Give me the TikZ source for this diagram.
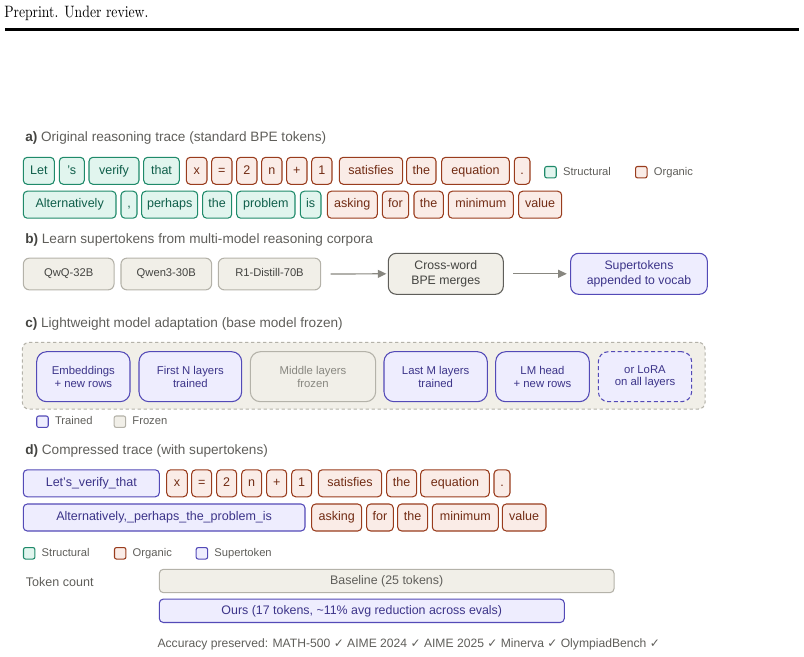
\documentclass[tikz,border=0pt]{standalone}
\usepackage{fontspec}
\setsansfont{Liberation Sans}
\renewcommand{\familydefault}{\sfdefault}
\newfontfamily\checkfont{DejaVu Sans}
\usepackage{tikz}
\usetikzlibrary{arrows.meta, positioning}
\definecolor{stfill}{HTML}{E1F5EE}
\definecolor{stdraw}{HTML}{1F8A6A}
\definecolor{sttext}{HTML}{0F5E4A}
\definecolor{orfill}{HTML}{FAECE7}
\definecolor{ordraw}{HTML}{993C1D}
\definecolor{ortext}{HTML}{712B13}
\definecolor{spfill}{HTML}{EEEDFE}
\definecolor{spdraw}{HTML}{534AB7}
\definecolor{sptext}{HTML}{3C3489}
\definecolor{frfill}{HTML}{F1EFE8}
\definecolor{frdraw}{HTML}{B4B2A9}
\definecolor{midgray}{HTML}{888780}
\definecolor{darkgray}{HTML}{5F5E5A}
\definecolor{inkgray}{HTML}{444441}

\begin{document}
\begin{tikzpicture}[x=0.75pt, y=-0.75pt,
  tok/.style={rounded corners=3pt, line width=0.8pt, minimum height=20.25pt,
              inner sep=0pt, text height=6.9pt, text depth=2.1pt,
              font=\fontsize{9.4}{11}\selectfont},
  tokst/.style={tok, draw=stdraw, fill=stfill, text=sttext},
  tokor/.style={tok, draw=ordraw, fill=orfill, text=ortext},
  toksp/.style={tok, draw=spdraw, fill=spfill, text=sptext},
  head/.style={anchor=west, inner sep=0pt, text=darkgray,
               font=\fontsize{10.2}{12}\selectfont},
  legbox/.style={minimum size=8.6pt, inner sep=0pt, rounded corners=1.5pt,
                 line width=0.8pt},
  legtxt/.style={anchor=west, inner sep=0pt, text=darkgray,
                 text height=6.1pt, text depth=1.8pt,
                 font=\fontsize{8.4}{10}\selectfont},
  model/.style={draw=frdraw, fill=frfill, rounded corners=4.5pt, line width=0.8pt,
                minimum width=68pt, minimum height=23.8pt, inner sep=0pt,
                text height=6.1pt, text depth=1.8pt,
                text=inkgray, font=\fontsize{8.4}{10}\selectfont},
  stage/.style={rounded corners=6pt, line width=0.8pt, minimum height=30.75pt,
                inner sep=0pt, align=center,
                font=\fontsize{9.2}{11.6}\selectfont},
  layer/.style={draw=spdraw, fill=spfill, text=sptext, rounded corners=7.5pt,
                line width=0.8pt, minimum height=37.5pt, inner sep=0pt,
                align=center, font=\fontsize{8.5}{9.5}\selectfont},
  bar/.style={rounded corners=3pt, line width=0.8pt, minimum height=17.5pt,
              inner sep=0pt, text height=6.8pt, text depth=2pt,
              font=\fontsize{9.3}{11}\selectfont},
  arr/.style={-{Triangle[length=6.5pt, width=6pt]}, line width=0.9pt,
              color=midgray}
]
\useasboundingbox (0,0) rectangle (804,657);

% Page header
\node[anchor=west, inner sep=0pt, font=\rmfamily\fontsize{10.3}{12}\selectfont]
  (hdr) at (4, 13.5) {\scalebox{1}[1.2]{Preprint. Under review.}};
\draw[line width=2pt] (5,29.5) -- (799,29.5);

% a) original trace
\node[head] (ha) at (25, 138)
  {\textbf{\color{inkgray}a)} Original reasoning trace (standard BPE tokens)};
\foreach \s/\l/\r/\t [count=\i] in {st/23.3/54.3/Let, st/59.3/84.3/'s,
    st/89/139/verify, st/143.7/179.3/that, or/186.3/207/x, or/211.7/232/=,
    or/236.7/257/2, or/261.7/282/n, or/286.7/307/+, or/311.7/332/1,
    or/339.3/402.7/satisfies, or/406.7/436/the, or/441.7/509.3/equation,
    or/514.3/530/.}
  \node[tok\s, minimum width={(\r-\l)*0.75pt}] (a1-\i) at ({(\l+\r)/2}, 170.8) {\t};
\foreach \s/\l/\r/\t [count=\i] in {st/23.3/116/Alternatively, st/121/137/{,},
    st/141.7/197.7/perhaps, st/202.7/231.7/the, st/236.7/295/problem,
    st/300.3/321/is, or/327.3/377.3/asking, or/382.3/408.7/for,
    or/414/443.3/the, or/448.3/513.3/minimum, or/518.7/561.7/value}
  \node[tok\s, minimum width={(\r-\l)*0.75pt}] (a2-\i) at ({(\l+\r)/2}, 204.7) {\t};

% legend a
\node[legbox, draw=stdraw, fill=stfill] (legAst) at (550.5, 172.2) {};
\node[legtxt, right=4.5pt of legAst] (legAstT) {Structural};
\node[legbox, draw=ordraw, fill=orfill] (legAor) at (641.3, 172.2) {};
\node[legtxt, right=4.5pt of legAor] (legAorT) {Organic};

% b) supertoken learning
\node[head] (hb) at (25, 240)
  {\textbf{\color{inkgray}b)} Learn supertokens from multi-model reasoning corpora};
\node[model] (qwq) at (68.7, 274) {QwQ-32B};
\node[model] (qwen) at (166.3, 274) {Qwen3-30B};
\node[model, minimum width=76.8pt] (r1) at (269.5, 274) {R1-Distill-70B};
\node[stage, draw=darkgray, fill=frfill, text=inkgray, minimum width=86.25pt]
  (merge) at (445.8, 273.8) {Cross-word\\BPE merges};
\node[stage, draw=spdraw, fill=spfill, text=sptext, minimum width=102.5pt]
  (vocab) at (639, 273.8) {Supertokens\\appended to vocab};
\draw[arr, shorten <=7pt, shorten >=1pt] (r1.east) -- (merge.west);
\draw[arr, shorten <=7pt, shorten >=2.5pt] (merge.east) -- (vocab.west);

% c) model adaptation
\node[head] (hc) at (25, 324)
  {\textbf{\color{inkgray}c)} Lightweight model adaptation (base model frozen)};
\node[draw=frdraw, fill=frfill, dash pattern=on 2.5pt off 2pt, line width=0.8pt,
      rounded corners=5pt, minimum width=512pt, minimum height=50pt]
  (panel) at (363.7, 375.7) {};
\node[layer, minimum width=70pt] (emb) at (83.35, 376.7) {Embeddings\\+ new rows};
\node[layer, minimum width=77pt] (first) at (190.35, 376.7) {First N layers\\trained};
\node[layer, minimum width=94pt, draw=frdraw, fill=frfill, text=midgray]
  (middle) at (313, 376.7) {Middle layers\\frozen};
\node[layer, minimum width=77.5pt] (last) at (435.65, 376.7) {Last M layers\\trained};
\node[layer, minimum width=70.2pt] (lmhead) at (542.5, 376.7) {LM head\\+ new rows};
\node[layer, minimum width=70pt, dash pattern=on 3pt off 2pt] (lora)
  at (645, 376.7) {or LoRA\\on all layers};

% legend c
\node[legbox, draw=spdraw, fill=spfill] (legCtr) at (42.5, 421.7) {};
\node[legtxt, right=4.5pt of legCtr] (legCtrT) {Trained};
\node[legbox, draw=frdraw, fill=frfill] (legCfr) at (119.9, 421.7) {};
\node[legtxt, right=4.5pt of legCfr] (legCfrT) {Frozen};

% d) compressed trace
\node[head] (hd) at (25, 451)
  {\textbf{\color{inkgray}d)} Compressed trace (with supertokens)};
\foreach \s/\l/\r/\t [count=\i] in {sp/23.3/159.3/Let's\_verify\_that,
    or/166.7/187.3/x, or/191.7/211.7/=, or/216.7/236.7/2, or/241.7/261.7/n,
    or/266.7/286.7/+, or/291.7/311.7/1, or/318.3/381.7/satisfies,
    or/386.7/416.7/the, or/420.7/489.3/equation, or/494/510/.}
  \node[tok\s, minimum width={(\r-\l)*0.75pt}] (d1-\i) at ({(\l+\r)/2}, 483.3) {\t};
\foreach \s/\l/\r/\t [count=\i] in {sp/23.3/305/{Alternatively,\_perhaps\_the\_problem\_is},
    or/311.7/361.7/asking, or/366.7/393.3/for, or/397.7/427.7/the,
    or/432.3/498.3/minimum, or/502.3/546/value}
  \node[tok\s, minimum width={(\r-\l)*0.75pt}] (d2-\i) at ({(\l+\r)/2}, 517.5) {\t};

% legend d
\node[legbox, draw=stdraw, fill=stfill] (legDst) at (29.2, 553.3) {};
\node[legtxt, right=4.5pt of legDst] (legDstT) {Structural};
\node[legbox, draw=ordraw, fill=orfill] (legDor) at (120.2, 553.3) {};
\node[legtxt, right=4.5pt of legDor] (legDorT) {Organic};
\node[legbox, draw=spdraw, fill=spfill] (legDsp) at (201.9, 553.3) {};
\node[legtxt, right=4.5pt of legDsp] (legDspT) {Supertoken};

% token count bars
\node[head, font=\fontsize{9.4}{11}\selectfont] (count) at (25.7, 581.7) {Token count};
\node[bar, draw=frdraw, fill=frfill, text=darkgray, minimum width=341pt]
  (base) at (386.7, 581) {Baseline (25 tokens)};
\node[bar, draw=spdraw, fill=spfill, text=sptext, minimum width=303.75pt]
  (ours) at (361.8, 610.8) {Ours (17 tokens, \textasciitilde11\% avg reduction across evals)};

% accuracy note
\node[head, font=\fontsize{9.1}{11}\selectfont] (acc) at (157.3, 644.3)
  {Accuracy preserved: MATH-500 {\checkfont\small ✓} AIME 2024 {\checkfont\small ✓}
   AIME 2025 {\checkfont\small ✓} Minerva {\checkfont\small ✓} OlympiadBench {\checkfont\small ✓}};

\end{tikzpicture}
\end{document}
